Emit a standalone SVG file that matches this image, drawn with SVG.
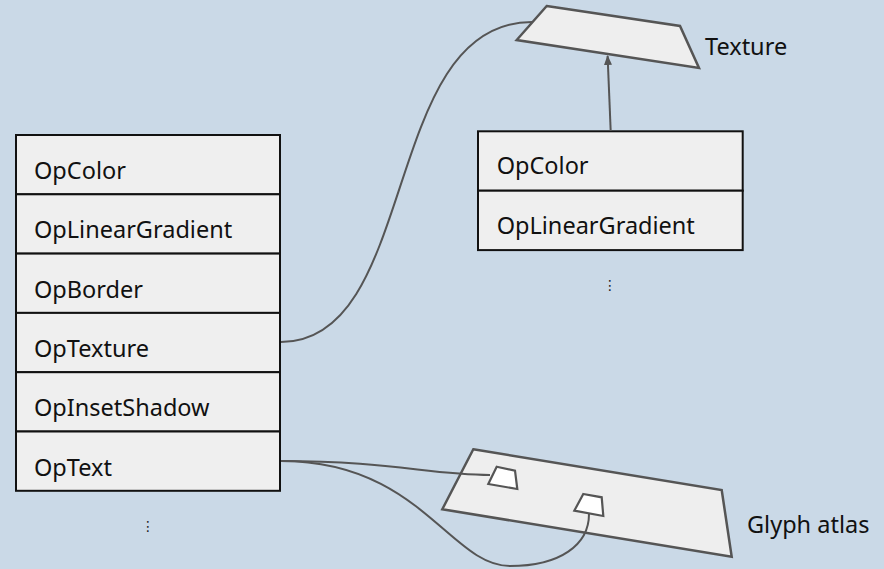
<svg xmlns="http://www.w3.org/2000/svg" width="884" height="569" viewBox="0 0 884 569">
<style>
.bg{fill:#cad9e7}
.row{fill:#efefef;stroke:#111;stroke-width:2}
.lbl{font-family:"Noto Sans","Open Sans",sans-serif;font-size:23.5px;fill:#111}
.tex{fill:#eeeeee;stroke:#555;stroke-width:2.5;stroke-linejoin:miter}
.glyph{fill:#ffffff;stroke:#555;stroke-width:2.2}
.conn{fill:none;stroke:#555;stroke-width:2}
.dots{font-family:"DejaVu Sans",sans-serif;font-size:14px;fill:#222;text-anchor:middle}
</style>
<defs>
<marker id="arr" markerWidth="10" markerHeight="10" refX="9" refY="5" orient="auto" markerUnits="userSpaceOnUse">
<path d="M0,1 L10,5 L0,9 Z" fill="#555"/>
</marker>
</defs>
<rect class="bg" x="0" y="0" width="884" height="569"/>

<g id="texture">
<polygon class="tex" points="546.7,6 680,26 699,68 516.7,40"/>
<text class="lbl" x="705" y="55">Texture</text>
</g>

<g id="glyph-atlas">
<polygon class="tex" points="473.3,449.3 721.7,490 731.7,556.7 442.3,509.3"/>
<polygon class="glyph" points="496.7,466.7 515,470.7 517.3,489 488.3,484"/>
<polygon class="glyph" points="583.3,494 601.7,497.3 603.3,516 574.3,510.7"/>
<text class="lbl" x="747" y="533">Glyph atlas</text>
</g>

<g id="ops-left">
<rect class="row" x="16" y="135" width="264" height="59.3"/>
<rect class="row" x="16" y="194.3" width="264" height="59.3"/>
<rect class="row" x="16" y="253.6" width="264" height="59.3"/>
<rect class="row" x="16" y="312.9" width="264" height="59.3"/>
<rect class="row" x="16" y="372.2" width="264" height="59.3"/>
<rect class="row" x="16" y="431.5" width="264" height="59.3"/>
<text class="lbl" x="34" y="179">OpColor</text>
<text class="lbl" x="34" y="238.3">OpLinearGradient</text>
<text class="lbl" x="34" y="297.6">OpBorder</text>
<text class="lbl" x="34" y="356.9">OpTexture</text>
<text class="lbl" x="34" y="416.2">OpInsetShadow</text>
<text class="lbl" x="34" y="475.5">OpText</text>
<text class="dots" x="148" y="531">⋮</text>
</g>

<g id="ops-right">
<rect class="row" x="478" y="131.3" width="264.7" height="59.4"/>
<rect class="row" x="478" y="190.7" width="264.7" height="59.4"/>
<text class="lbl" x="496.7" y="174.3">OpColor</text>
<text class="lbl" x="496.7" y="233.7">OpLinearGradient</text>
<text class="dots" x="610" y="290">⋮</text>
</g>

<g id="connectors">
<path class="conn" d="M281,342 C420,342 380,22 532,22"/>
<path class="conn" d="M610.7,131 L607.6,56" marker-end="url(#arr)"/>
<path class="conn" d="M281,461 C390,461 430,475 490,475"/>
<path class="conn" d="M281,461 C420,461 450,566 510,566 C560,566 589,545 589,514"/>
</g>
</svg>
